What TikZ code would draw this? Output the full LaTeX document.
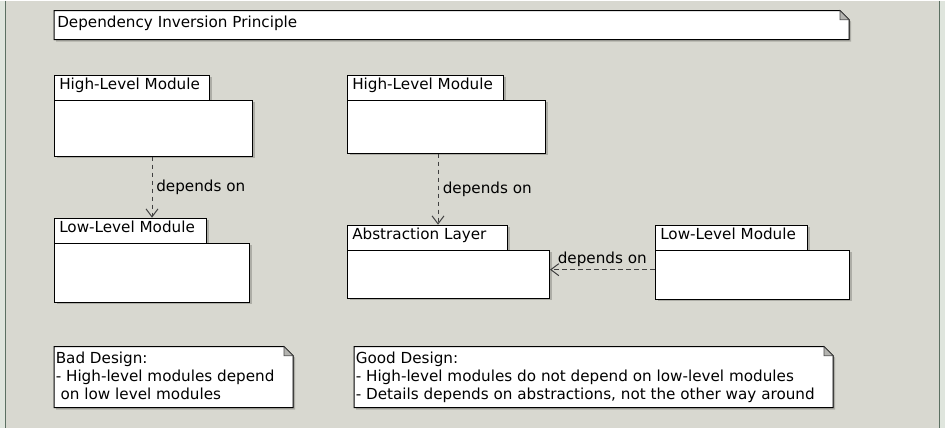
\documentclass[tikz,border=0pt]{standalone}
\usepackage{fontspec}
\setmainfont{DejaVu Sans}
\usetikzlibrary{arrows.meta,shadows}
\definecolor{bgc}{HTML}{D8D8D0}
\definecolor{outc}{HTML}{DFE5DD}
\definecolor{framec}{HTML}{5C7062}
\definecolor{shad}{HTML}{ADADA6}
\definecolor{earc}{HTML}{B4B4B0}
\definecolor{arrc}{HTML}{404040}

\newcommand\mypkg[8]{% name, x1, y1, tab x2, tab bottom, body x2, body y2, label
  \node[box, minimum width={(#4-#2)*0.75pt}, minimum height={(#5-#3)*0.75pt}] (#1tab) at (#2,#3) {};
  \node[lbl, anchor=base west] (#1lbl) at (#2+5,#3+15) {#8};
  \node[box, minimum width={(#6-#2)*0.75pt}, minimum height={(#7-#5)*0.75pt}] (#1) at (#2,#5) {};
}
\newcommand\mynote[6]{% name, x1, y1, x2, y2, text
  \fill[shad] (#2+2,#3+2) -- (#4-9+2,#3+2) -- (#4+2,#3+9+2) -- (#4+2,#5+2) -- (#2+2,#5+2) -- cycle;
  \draw[notefr] (#2,#3) -- (#4-9,#3) -- (#4,#3+9) -- (#4,#5) -- (#2,#5) -- cycle;
  \filldraw[fill=earc, draw=black!70, line width=0.6pt] (#4-9,#3) -- (#4-9,#3+9) -- (#4,#3+9) -- cycle;
  \coordinate (#1nw) at (#2,#3);
  \coordinate (#1se) at (#4,#5);
}

\begin{document}
\begin{tikzpicture}[x=0.75pt,y=-0.75pt,
  font=\fontsize{11.4}{13.5}\selectfont,
  box/.style={draw=black, fill=white, line width=0.75pt, inner sep=0pt, anchor=north west,
    drop shadow={shadow xshift=1.5pt, shadow yshift=-1.5pt, fill=shad, opacity=1}},
  notefr/.style={draw=black, fill=white, line width=0.75pt, line join=miter},
  lbl/.style={inner sep=0pt, text=black},
  dep/.style={draw=arrc, line width=0.75pt, dash pattern=on 3.5pt off 2.5pt,
    -{Straight Barb[length=6pt,width=9pt,line width=0.75pt]}}]

% background and frame
\fill[outc] (0,0) rectangle (945,427);
\fill[bgc] (5,0) rectangle (939.5,427);
\draw[framec, line width=1pt] (5.5,0) -- (5.5,427);
\draw[framec, line width=1pt] (939.5,0) -- (939.5,427);
\useasboundingbox (0,0) rectangle (945,427);

% title note
\mynote{title}{54}{10}{849}{39}{}
\node[lbl, anchor=base west] (titletext) at (57,27) {Dependency Inversion Principle};

% packages, left
\mypkg{hlmA}{54}{74}{209}{99}{252}{155}{High-Level Module}
\mypkg{llmA}{54}{217}{206}{242}{249}{301}{Low-Level Module}

% packages, right
\mypkg{hlmB}{347}{74}{503}{99}{545}{152}{High-Level Module}
\mypkg{abs}{347}{224}{507}{249}{549}{297}{Abstraction Layer}
\mypkg{llmB}{655}{224}{807}{249}{849}{298}{Low-Level Module}

% dependencies
\draw[dep] (hlmA.south -| 152,0) -- (llmAtab.north -| 152,0);
\node[lbl, anchor=base west] (depA) at (156,191) {depends on};

\draw[dep] (hlmB.south -| 438,0) -- (abstab.north -| 438,0);
\node[lbl, anchor=base west] (depB) at (442.5,192.5) {depends on};

\draw[dep] (llmB.west |- 0,269) -- (abs.east |- 0,269);
\node[lbl, anchor=base west] (depC) at (557.5,262.5) {depends on};

% bottom notes
\mynote{bad}{54}{346}{293}{407}{}
\node[lbl, anchor=base west] (badtext) at (55.5,363.3) {\begin{tabular}[t]{@{}l@{}}Bad Design:\\- High-level modules depend\\\hspace*{0.32em}on low level modules\end{tabular}};

\mynote{good}{354}{346}{833}{407}{}
\node[lbl, anchor=base west] (goodtext) at (355.5,363) {\begin{tabular}[t]{@{}l@{}}Good Design:\\- High-level modules do not depend on low-level modules\\- Details depends on abstractions, not the other way around\end{tabular}};
\end{tikzpicture}
\end{document}
